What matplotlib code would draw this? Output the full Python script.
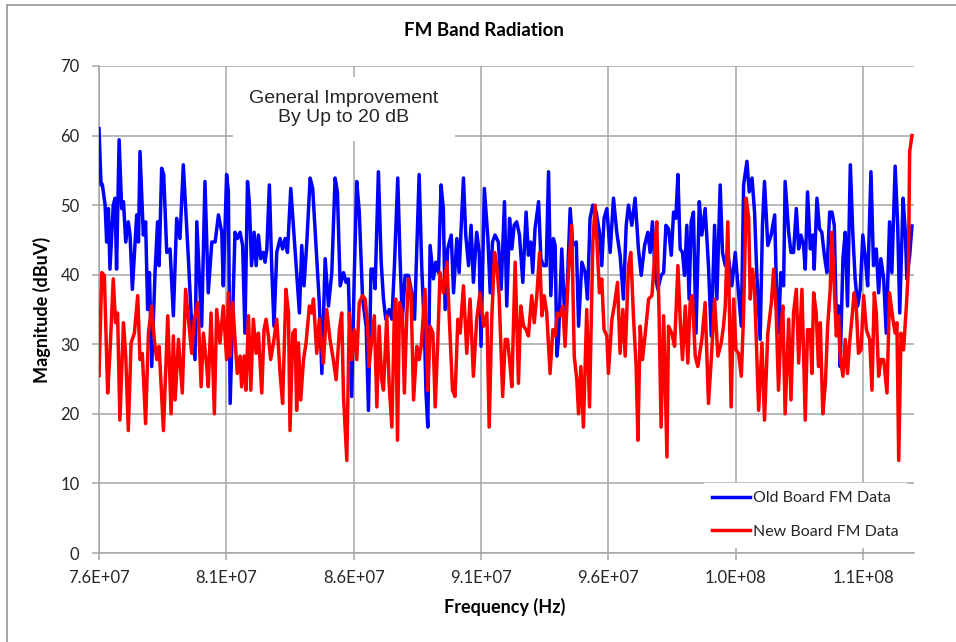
import numpy as np
import matplotlib
matplotlib.use('Agg')
import matplotlib.pyplot as plt
from matplotlib.patches import Rectangle
from matplotlib.ticker import FuncFormatter

# frequency in MHz, magnitude in dBuV
old_freq_mhz = [
    76.00, 76.08, 76.13, 76.24, 76.30, 76.37, 76.43, 76.56, 76.63, 76.69,
    76.79, 76.89, 76.96, 77.05, 77.15, 77.22, 77.31, 77.48, 77.55, 77.61,
    77.74, 77.83, 77.91, 77.98, 78.07, 78.20, 78.30, 78.36, 78.46, 78.54,
    78.66, 78.79, 78.92, 79.05, 79.18, 79.31, 79.51, 79.64, 79.77, 79.84,
    80.03, 80.16, 80.29, 80.43, 80.56, 80.69, 80.82, 80.88, 81.01, 81.08,
    81.15, 81.34, 81.43, 81.54, 81.64, 81.73, 81.83, 81.90, 81.99, 82.09,
    82.17, 82.26, 82.35, 82.45, 82.52, 82.59, 82.69, 82.78, 82.87, 82.98,
    83.11, 83.21, 83.31, 83.40, 83.53, 83.63, 83.74, 83.87, 83.96, 84.05,
    84.16, 84.29, 84.39, 84.52, 84.65, 84.75, 84.88, 85.01, 85.14, 85.27,
    85.36, 85.47, 85.60, 85.70, 85.79, 85.92, 86.02, 86.12, 86.22, 86.35,
    86.49, 86.58, 86.68, 86.78, 86.84, 86.97, 87.08, 87.17, 87.26, 87.39,
    87.50, 87.60, 87.73, 87.82, 87.91, 88.02, 88.15, 88.28, 88.39, 88.57,
    88.67, 88.78, 88.84, 88.91, 89.00, 89.13, 89.22, 89.33, 89.43, 89.52,
    89.59, 89.69, 89.83, 89.92, 90.05, 90.14, 90.31, 90.40, 90.51, 90.61,
    90.70, 90.83, 90.93, 91.00, 91.13, 91.27, 91.36, 91.45, 91.55, 91.68,
    91.79, 91.92, 92.01, 92.12, 92.21, 92.30, 92.40, 92.51, 92.64, 92.77,
    92.86, 92.95, 93.03, 93.12, 93.26, 93.35, 93.45, 93.56, 93.65, 93.74,
    93.84, 93.91, 93.98, 94.04, 94.17, 94.30, 94.39, 94.50, 94.60, 94.74,
    94.83, 94.96, 95.09, 95.18, 95.28, 95.39, 95.52, 95.65, 95.74, 95.83,
    95.94, 96.07, 96.20, 96.33, 96.46, 96.59, 96.70, 96.79, 96.92, 97.05,
    97.18, 97.29, 97.42, 97.55, 97.64, 97.73, 97.84, 97.94, 98.07, 98.17,
    98.26, 98.36, 98.47, 98.56, 98.65, 98.73, 98.82, 98.91, 98.99, 99.08,
    99.17, 99.25, 99.34, 99.44, 99.57, 99.67, 99.80, 99.93, 100.04, 100.17,
    100.26, 100.39, 100.48, 100.59, 100.69, 100.85, 100.98, 101.11, 101.22, 101.31,
    101.44, 101.53, 101.64, 101.74, 101.83, 101.96, 102.05, 102.13, 102.26, 102.39,
    102.53, 102.59, 102.68, 102.77, 102.88, 102.94, 103.08, 103.17, 103.27, 103.38,
    103.47, 103.56, 103.66, 103.73, 103.82, 103.93, 104.03, 104.08, 104.19, 104.29,
    104.38, 104.48, 104.58, 104.69, 104.78, 104.87, 104.95, 105.04, 105.10, 105.21,
    105.30, 105.39, 105.50, 105.60, 105.69, 105.79, 105.89, 105.99, 106.09, 106.18,
    106.31, 106.41, 106.52, 106.61, 106.70, 106.81, 106.91, 107.04, 107.13, 107.26,
    107.36, 107.44, 107.57, 107.66, 107.72, 107.83, 107.92,
]
old_dbuv = [
    61.0, 52.9, 53.0, 50.0, 44.7, 49.5, 40.8, 50.0, 51.0, 40.8,
    59.4, 49.5, 50.5, 44.7, 47.6, 45.7, 37.9, 48.6, 44.7, 57.7,
    45.7, 47.6, 35.0, 40.3, 26.8, 40.3, 47.6, 41.3, 55.3, 54.4,
    43.2, 43.7, 34.1, 48.1, 45.2, 55.8, 42.3, 32.6, 27.8, 47.6,
    32.6, 53.4, 37.4, 44.7, 44.7, 48.6, 46.1, 38.4, 54.4, 51.9,
    21.5, 46.1, 45.2, 46.1, 44.2, 31.6, 53.4, 50.5, 41.3, 46.1,
    41.3, 45.7, 42.3, 43.2, 41.8, 43.7, 52.9, 41.3, 32.6, 43.2,
    45.2, 43.7, 45.2, 43.2, 52.4, 47.1, 41.3, 34.5, 44.2, 38.4,
    44.7, 53.9, 52.4, 44.2, 36.0, 25.8, 42.3, 35.5, 40.3, 53.9,
    51.9, 38.4, 40.3, 38.9, 39.4, 22.5, 39.4, 53.4, 49.0, 36.5,
    32.6, 20.5, 40.8, 40.8, 38.0, 54.8, 41.8, 36.5, 33.6, 35.0,
    33.6, 41.3, 53.9, 42.3, 33.6, 39.9, 39.9, 37.4, 33.6, 54.4,
    41.3, 31.6, 23.0, 18.1, 44.2, 39.4, 41.8, 40.3, 52.9, 49.5,
    35.0, 43.7, 45.7, 37.4, 45.2, 40.3, 53.9, 45.7, 41.3, 47.1,
    38.9, 46.1, 43.2, 29.7, 52.4, 45.2, 37.4, 44.7, 45.7, 44.7,
    37.9, 50.5, 35.5, 48.1, 43.7, 47.1, 47.6, 45.7, 38.9, 49.0,
    42.8, 44.7, 40.3, 46.6, 50.5, 42.3, 41.3, 41.3, 54.8, 37.0,
    45.2, 44.2, 28.3, 30.7, 43.7, 32.6, 38.9, 49.5, 44.2, 44.7,
    32.6, 41.8, 40.3, 36.5, 48.1, 50.0, 49.0, 46.1, 41.3, 48.1,
    49.5, 43.2, 51.0, 46.1, 42.8, 36.5, 47.1, 50.0, 47.1, 51.0,
    43.7, 39.9, 44.2, 46.1, 43.2, 47.6, 39.9, 37.9, 39.9, 40.3,
    47.1, 46.6, 42.8, 49.0, 48.1, 54.4, 43.7, 43.2, 39.9, 47.1,
    36.5, 47.6, 49.0, 31.6, 50.5, 45.7, 49.5, 41.3, 31.2, 47.1,
    36.5, 52.9, 43.2, 41.3, 43.2, 38.4, 43.2, 37.4, 32.6, 52.9,
    56.3, 51.9, 53.9, 49.0, 39.9, 30.7, 47.1, 53.4, 44.2, 45.7,
    48.6, 39.4, 31.6, 40.3, 38.4, 53.4, 46.1, 43.2, 43.2, 49.5,
    43.7, 45.7, 44.2, 40.8, 51.9, 43.7, 45.7, 40.8, 51.0, 46.6,
    46.1, 42.8, 40.3, 49.0, 49.0, 47.1, 33.1, 35.5, 26.8, 42.3,
    46.1, 35.5, 55.8, 45.7, 39.4, 35.5, 37.9, 45.7, 42.3, 38.4,
    54.8, 41.3, 43.7, 37.4, 42.3, 39.4, 31.6, 47.6, 40.3, 55.6,
    47.1, 34.5, 51.0, 46.1, 39.4, 42.8, 47.0,
]

new_freq_mhz = [
    76.00, 76.11, 76.21, 76.34, 76.43, 76.56, 76.65, 76.73, 76.82, 76.96,
    77.05, 77.15, 77.26, 77.39, 77.52, 77.61, 77.70, 77.83, 77.94, 78.07,
    78.17, 78.27, 78.36, 78.53, 78.70, 78.83, 78.92, 78.99, 79.12, 79.27,
    79.40, 79.51, 79.64, 79.74, 79.88, 80.01, 80.10, 80.23, 80.29, 80.40,
    80.53, 80.62, 80.75, 80.88, 81.01, 81.08, 81.15, 81.25, 81.34, 81.43,
    81.54, 81.60, 81.70, 81.77, 81.87, 81.96, 82.06, 82.17, 82.26, 82.39,
    82.48, 82.56, 82.65, 82.74, 82.85, 82.98, 83.11, 83.21, 83.34, 83.44,
    83.50, 83.61, 83.70, 83.76, 83.83, 83.92, 84.03, 84.13, 84.26, 84.35,
    84.42, 84.55, 84.65, 84.81, 84.94, 85.07, 85.20, 85.31, 85.44, 85.53,
    85.60, 85.73, 85.83, 85.92, 86.02, 86.12, 86.22, 86.35, 86.45, 86.55,
    86.60, 86.71, 86.81, 86.91, 87.00, 87.10, 87.17, 87.30, 87.39, 87.50,
    87.60, 87.65, 87.72, 87.80, 87.91, 87.99, 88.08, 88.15, 88.25, 88.35,
    88.48, 88.57, 88.65, 88.74, 88.80, 88.91, 89.00, 89.11, 89.20, 89.30,
    89.39, 89.52, 89.66, 89.75, 89.88, 89.98, 90.09, 90.18, 90.31, 90.44,
    90.57, 90.70, 90.83, 90.96, 91.10, 91.23, 91.32, 91.42, 91.53, 91.62,
    91.71, 91.85, 91.95, 92.04, 92.12, 92.21, 92.34, 92.47, 92.56, 92.67,
    92.77, 92.86, 92.99, 93.09, 93.19, 93.30, 93.39, 93.48, 93.58, 93.71,
    93.82, 93.91, 94.00, 94.11, 94.21, 94.30, 94.43, 94.56, 94.66, 94.76,
    94.83, 94.92, 95.02, 95.15, 95.26, 95.39, 95.48, 95.57, 95.65, 95.74,
    95.83, 95.94, 96.00, 96.14, 96.23, 96.36, 96.46, 96.57, 96.66, 96.79,
    96.88, 96.99, 97.09, 97.16, 97.25, 97.34, 97.45, 97.58, 97.71, 97.81,
    97.90, 97.99, 98.07, 98.17, 98.30, 98.36, 98.49, 98.60, 98.73, 98.82,
    98.91, 99.02, 99.12, 99.21, 99.30, 99.41, 99.51, 99.67, 99.80, 99.93,
    100.04, 100.17, 100.30, 100.43, 100.52, 100.59, 100.69, 100.82, 100.92, 101.01,
    101.11, 101.22, 101.31, 101.41, 101.51, 101.57, 101.66, 101.74, 101.90, 102.03,
    102.13, 102.26, 102.40, 102.49, 102.59, 102.68, 102.77, 102.85, 102.94, 103.08,
    103.17, 103.27, 103.38, 103.47, 103.60, 103.73, 103.82, 103.93, 103.99, 104.06,
    104.16, 104.25, 104.32, 104.42, 104.52, 104.61, 104.71, 104.78, 104.87, 104.95,
    105.04, 105.10, 105.21, 105.30, 105.39, 105.47, 105.56, 105.65, 105.73, 105.82,
    105.92, 106.02, 106.13, 106.26, 106.35, 106.44, 106.52, 106.61, 106.70, 106.81,
    106.94, 107.04, 107.17, 107.26, 107.33, 107.40, 107.49, 107.59, 107.70, 107.78,
    107.83, 107.92,
]
new_dbuv = [
    25.5, 40.3, 39.9, 23.0, 28.7, 39.4, 33.1, 34.5, 19.1, 33.1,
    28.3, 17.6, 30.2, 31.6, 37.0, 27.8, 28.7, 18.6, 31.6, 35.5,
    30.7, 27.8, 29.7, 17.6, 34.1, 20.0, 31.2, 22.0, 30.7, 23.0,
    37.9, 33.6, 28.7, 33.6, 36.0, 23.9, 31.6, 26.8, 23.9, 34.5,
    20.0, 35.0, 30.2, 35.5, 27.8, 37.4, 28.3, 36.0, 30.7, 25.8,
    28.3, 23.9, 28.3, 23.4, 34.1, 23.4, 33.6, 28.7, 31.6, 23.0,
    32.1, 33.6, 31.2, 27.8, 30.2, 33.6, 25.8, 21.5, 37.9, 34.5,
    17.6, 31.6, 32.1, 20.5, 30.2, 22.0, 27.8, 30.2, 35.5, 34.5,
    36.5, 28.7, 33.6, 27.3, 35.0, 30.7, 27.8, 24.9, 32.1, 34.5,
    22.5, 13.3, 34.5, 27.8, 32.1, 27.8, 36.0, 37.0, 36.5, 32.6,
    26.8, 30.7, 34.1, 21.0, 32.6, 24.9, 23.4, 34.1, 24.4, 18.1,
    35.0, 36.5, 16.2, 36.0, 34.5, 23.0, 33.6, 39.4, 37.4, 22.0,
    29.7, 27.8, 29.7, 34.5, 37.9, 23.4, 32.6, 31.6, 21.0, 30.2,
    40.3, 37.4, 41.8, 34.1, 23.4, 22.5, 33.6, 31.6, 38.4, 28.7,
    36.5, 25.4, 33.6, 37.4, 32.6, 34.5, 18.1, 33.6, 43.2, 41.3,
    37.0, 22.5, 30.7, 30.7, 27.8, 23.9, 41.8, 24.4, 35.5, 32.6,
    32.1, 31.2, 37.0, 33.1, 37.0, 43.2, 34.1, 37.0, 34.5, 25.8,
    32.1, 31.2, 34.5, 34.1, 35.5, 29.7, 40.3, 47.1, 28.3, 24.9,
    20.0, 26.8, 18.1, 35.0, 21.0, 44.7, 50.0, 43.2, 37.4, 39.4,
    32.1, 31.2, 25.8, 33.6, 35.5, 38.9, 28.7, 35.0, 28.3, 41.3,
    43.2, 33.6, 26.8, 16.2, 32.6, 27.8, 31.6, 36.5, 37.0, 42.3,
    47.6, 34.5, 18.1, 34.1, 13.8, 32.6, 31.6, 29.7, 41.3, 33.6,
    27.8, 35.5, 27.3, 36.0, 37.0, 28.3, 26.8, 30.7, 36.0, 21.5,
    27.8, 36.5, 28.3, 30.2, 32.6, 35.5, 47.6, 21.0, 36.5, 29.2,
    28.7, 25.4, 34.5, 51.0, 48.1, 36.5, 40.8, 37.9, 20.5, 30.2,
    19.1, 31.6, 36.0, 40.8, 34.5, 23.4, 31.6, 35.5, 20.0, 33.6,
    22.0, 34.5, 37.9, 27.3, 37.9, 19.1, 32.1, 32.1, 25.8, 37.4,
    34.5, 26.8, 33.1, 20.0, 24.4, 32.6, 37.9, 46.1, 38.4, 31.2,
    34.1, 28.3, 25.4, 30.7, 25.8, 30.2, 33.6, 37.4, 35.5, 28.7,
    29.2, 37.0, 32.1, 30.7, 23.4, 37.4, 34.5, 25.4, 27.8, 27.8,
    23.0, 37.4, 33.6, 31.6, 33.1, 13.3, 31.6, 29.2, 35.5, 40.8,
    57.7, 60.0,
]

series_names = ['Old Board FM Data', 'New Board FM Data']
x_ticks_hz = [7.6e7, 8.1e7, 8.6e7, 9.1e7, 9.6e7, 1.01e8, 1.06e8]
y_ticks = [0, 10, 20, 30, 40, 50, 60, 70]

W, H = 956, 642
grid_c = '#A6A6A6'
txt_c = '#262626'

fig = plt.figure(figsize=(W / 100, H / 100), dpi=100)
fig.patch.set_facecolor('white')

# outer chart border (only left/top visible in reference)
fig.add_artist(Rectangle((7 / W, -0.1), 1.2, 1.1 - 5 / H, transform=fig.transFigure,
                         fill=False, edgecolor='#8C8C8C', lw=1.1))

ax = fig.add_axes([99 / W, 1 - 553 / H, (914 - 99) / W, (553 - 66) / H])

ax.plot(np.array(old_freq_mhz) * 1e6, old_dbuv, color='#0000FF', lw=2.5,
        solid_joinstyle='round', label=series_names[0], zorder=3)
ax.plot(np.array(new_freq_mhz) * 1e6, new_dbuv, color='#FF0000', lw=2.5,
        solid_joinstyle='round', label=series_names[1], zorder=4)

ax.set_xlim(7.6e7, 1.08e8)
ax.set_ylim(0, 70)
ax.set_xticks(x_ticks_hz)
ax.set_yticks(y_ticks)
ax.xaxis.set_major_formatter(FuncFormatter(lambda v, p: '{:.1E}'.format(v)))
ax.grid(True, color=grid_c, lw=1.1, zorder=1)
ax.set_axisbelow(True)
for s in ['top', 'right']:
    ax.spines[s].set_visible(False)
for s in ['left', 'bottom']:
    ax.spines[s].set_color(grid_c)
    ax.spines[s].set_linewidth(1.1)
ax.tick_params(axis='both', direction='out', length=5, width=1.1, color=grid_c,
               labelcolor=txt_c)
ax.tick_params(axis='y', pad=9)
ax.tick_params(axis='x', pad=7)
for lab in ax.get_xticklabels() + ax.get_yticklabels():
    lab.set_fontfamily('Lato')
    lab.set_fontsize(12)

fig.text(484 / W, 1 - 31 / H, 'FM Band Radiation', ha='center', va='center',
         fontsize=13.5, fontweight='bold', family='Lato', color='black')
fig.text(505 / W, 1 - 607 / H, 'Frequency (Hz)', ha='center', va='center',
         fontsize=13, fontweight='bold', family='Lato', color='black')
fig.text(42 / W, 1 - 310 / H, 'Magnitude (dBuV)', ha='center', va='center',
         rotation=90, fontsize=13, fontweight='bold', family='Lato', color='black')

# white box behind the annotation hides the grid
fig.add_artist(Rectangle((233 / W, 1 - 141 / H), (455 - 233) / W, (141 - 77) / H,
                         transform=fig.transFigure, facecolor='white',
                         edgecolor='none', zorder=2.5))
fig.text(344 / W, 1 - 108 / H, 'General Improvement\nBy Up to 20 dB',
         ha='center', va='center', fontsize=14, family='Liberation Sans',
         color=txt_c, linespacing=1.2, zorder=5)

leg = fig.legend(loc='center', bbox_to_anchor=(805 / W, 1 - 515 / H),
                 prop={'family': 'Lato', 'size': 11.5}, frameon=True,
                 fancybox=False, framealpha=1, edgecolor='white',
                 handlelength=2.4, handletextpad=0.15, labelspacing=1.2,
                 borderpad=0.5)
for t in leg.get_texts():
    t.set_color(txt_c)
for h in leg.get_lines():
    h.set_linewidth(2.5)

fig.savefig('out.png', dpi=100)
